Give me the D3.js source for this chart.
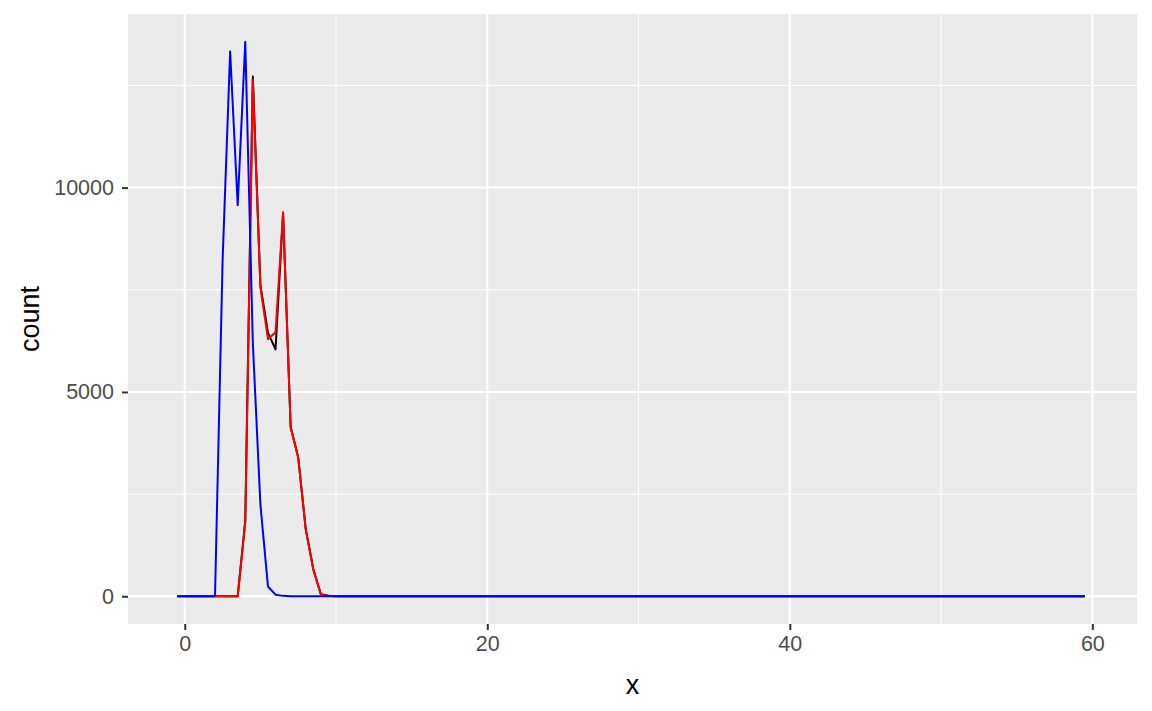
<!DOCTYPE html>
<html><head><meta charset="utf-8">
<script src="https://cdn.jsdelivr.net/npm/d3@7"></script>
<style>body{margin:0;background:#fff;} text{font-family:"Liberation Sans",Arial,sans-serif;}</style>
</head><body><svg id="c" width="1152" height="711"></svg>
<script>
// bin centres (binwidth 0.5) for each series; counts
const xBins = [-0.5, 3.0, 3.5, 4.0, 4.5, 5.0, 5.5, 6.0, 6.5, 7.0, 7.5, 8.0, 8.5, 9.0, 9.5, 10.0, 59.5];
const xCounts = [0, 0, 0, 1850, 12720, 7620, 6450, 6040, 9380, 4150, 3400, 1640, 660, 50, 12, 0, 0];
const yBins = [-0.5, 3.0, 3.5, 4.0, 4.5, 5.0, 5.5, 6.0, 6.5, 7.0, 7.5, 8.0, 8.5, 9.0, 9.5, 10.0, 59.5];
const yCounts = [0, 0, 0, 1800, 12640, 7560, 6290, 6460, 9400, 4130, 3390, 1630, 650, 40, 10, 0, 0];
const zBins = [-0.5, 2.0, 2.5, 3.0, 3.5, 4.0, 4.5, 5.0, 5.5, 6.0, 6.5, 7.0, 59.5];
const zCounts = [0, 0, 8200, 13330, 9570, 13570, 6200, 2250, 240, 40, 10, 0, 0];
const xTicks = [0, 20, 40, 60];
const xMinor = [10, 30, 50];
const yTicks = [0, 5000, 10000];
const yMinor = [2500, 7500, 12500];
const seriesColors = ["black", "red", "blue"];

const svg = d3.select("#c");
const L = 128, R = 1137, T = 14, B = 624;
const allX = [].concat(xBins, yBins, zBins);
const allY = [].concat(xCounts, yCounts, zCounts);
const xMin = d3.min(allX), xMax = d3.max(allX);
const xPad = (xMax - xMin) * 0.0542;
const x = d3.scaleLinear().domain([xMin - xPad, xMax + xPad + 0.2]).range([L, R]);
const yMax = d3.max(allY);
const y = d3.scaleLinear().domain([-yMax * 0.05, yMax * 1.05]).range([B, T]);

svg.append("rect").attr("x", L).attr("y", T).attr("width", R - L).attr("height", B - T).attr("fill", "#EBEBEB");
const g = svg.append("g");
g.selectAll(".vmin").data(xMinor).join("line").attr("x1", d => x(d)).attr("x2", d => x(d)).attr("y1", T).attr("y2", B).attr("stroke", "#fff").attr("stroke-width", 1);
g.selectAll(".hmin").data(yMinor).join("line").attr("y1", d => y(d)).attr("y2", d => y(d)).attr("x1", L).attr("x2", R).attr("stroke", "#fff").attr("stroke-width", 1);
g.selectAll(".vmaj").data(xTicks).join("line").attr("x1", d => x(d)).attr("x2", d => x(d)).attr("y1", T).attr("y2", B).attr("stroke", "#fff").attr("stroke-width", 2);
g.selectAll(".hmaj").data(yTicks).join("line").attr("y1", d => y(d)).attr("y2", d => y(d)).attr("x1", L).attr("x2", R).attr("stroke", "#fff").attr("stroke-width", 2);

const line = d3.line().x(d => x(d[0])).y(d => y(d[1]));
const series = [d3.zip(xBins, xCounts), d3.zip(yBins, yCounts), d3.zip(zBins, zCounts)];
series.forEach((s, i) => {
  svg.append("path").datum(s).attr("d", line).attr("fill", "none").attr("stroke", seriesColors[i]).attr("stroke-width", 2).attr("stroke-linejoin", "round");
});

const xAxis = svg.append("g").attr("transform", `translate(0,${B})`).call(d3.axisBottom(x).tickValues(xTicks).tickSize(6).tickPadding(6).tickFormat(d3.format("d")));
const yAxis = svg.append("g").attr("transform", `translate(${L},0)`).call(d3.axisLeft(y).tickValues(yTicks).tickSize(6).tickPadding(8).tickFormat(d3.format("d")));
[xAxis, yAxis].forEach(a => {
  a.select(".domain").remove();
  a.selectAll(".tick line").attr("stroke", "#333").attr("stroke-width", 2);
  a.selectAll(".tick text").attr("fill", "#4D4D4D").style("font-size", "21.5px").style("font-family", "Liberation Sans, Arial, sans-serif");
});
svg.append("text").attr("x", (L + R) / 2).attr("y", 694).attr("text-anchor", "middle").style("font-size", "27px").text("x");
svg.append("text").attr("transform", `translate(39,${(T + B) / 2}) rotate(-90)`).attr("text-anchor", "middle").style("font-size", "27px").text("count");
</script></body></html>
